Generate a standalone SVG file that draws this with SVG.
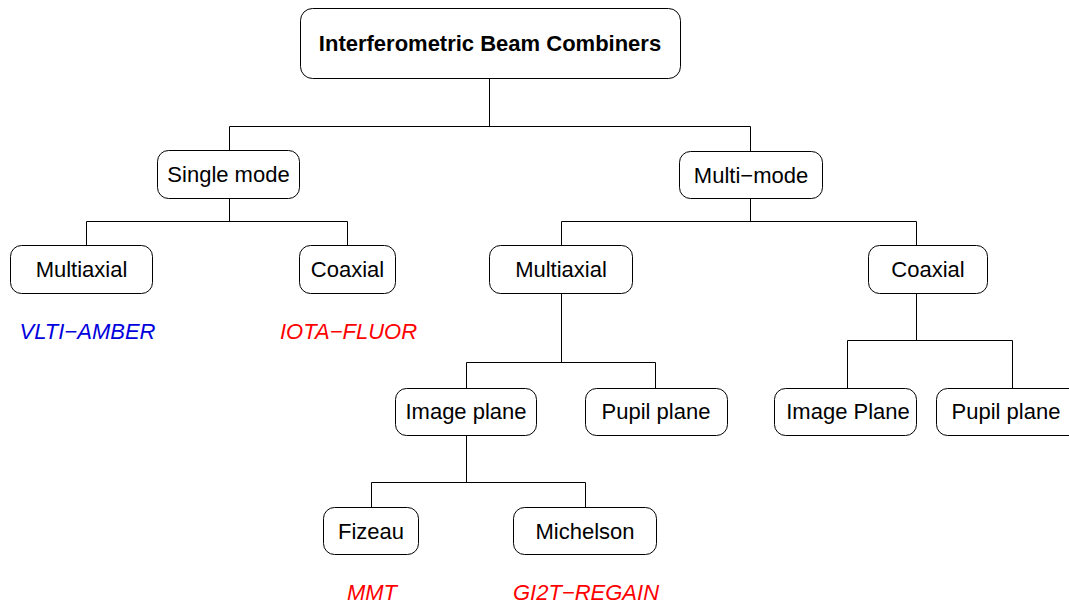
<svg xmlns="http://www.w3.org/2000/svg" width="1069" height="607" viewBox="0 0 1069 607">
<style>
.box{fill:#fff;stroke:#000;stroke-width:1}
.lbl{font-family:"Liberation Sans",Arial,sans-serif;font-size:22px;fill:#000;text-anchor:middle}
.root{font-weight:bold}
.ex{font-family:"Liberation Sans",Arial,sans-serif;font-size:22px;font-style:italic;text-anchor:middle}
.blue{fill:#0000dd}
.red{fill:#ff0000}
.conn{fill:none;stroke:#000;stroke-width:1}
</style>
<rect width="1069" height="607" fill="#fff"/>
<g id="connectors" class="conn">
<path d="M489.5 78V126.5M229.5 126.5H750.5M229.5 126.5V150M750.5 126.5V151"/>
<path d="M229.5 198V221.5M86.5 221.5H347.5M86.5 221.5V245M347.5 221.5V245"/>
<path d="M750.5 198V221.5M561.5 221.5H916.5M561.5 221.5V245M916.5 221.5V245"/>
<path d="M561.5 293V362.5M466.5 362.5H655.5M466.5 362.5V388M655.5 362.5V388"/>
<path d="M916.5 293V340.5M847.5 340.5H1012.5M847.5 340.5V388M1012.5 340.5V388"/>
<path d="M466.5 435V482.5M371.5 482.5H585.5M371.5 482.5V507M585.5 482.5V507"/>
</g>
<g id="root"><rect class="box" x="300.5" y="8.5" width="380" height="70" rx="12"/><text class="lbl root" x="490" y="51">Interferometric Beam Combiners</text></g>
<g id="single"><rect class="box" x="157.5" y="150.5" width="142" height="48" rx="11"/><text class="lbl" x="228.5" y="182">Single mode</text></g>
<g id="multi"><rect class="box" x="679.5" y="151.5" width="143" height="47" rx="11"/><text class="lbl" x="751" y="183">Multi−mode</text></g>
<g id="sm-multiaxial"><rect class="box" x="10.5" y="245.5" width="142" height="48" rx="11"/><text class="lbl" x="81.5" y="277">Multiaxial</text></g>
<g id="sm-coaxial"><rect class="box" x="299.5" y="245.5" width="96" height="48" rx="11"/><text class="lbl" x="347.5" y="277">Coaxial</text></g>
<g id="mm-multiaxial"><rect class="box" x="489.5" y="245.5" width="143" height="48" rx="11"/><text class="lbl" x="561" y="277">Multiaxial</text></g>
<g id="mm-coaxial"><rect class="box" x="868.5" y="245.5" width="119" height="48" rx="11"/><text class="lbl" x="928" y="277">Coaxial</text></g>
<g id="ex-amber"><text class="ex blue" x="87.5" y="339">VLTI−AMBER</text></g>
<g id="ex-fluor"><text class="ex red" x="348.5" y="339">IOTA−FLUOR</text></g>
<g id="ma-image"><rect class="box" x="395.5" y="388.5" width="141" height="47" rx="11"/><text class="lbl" x="466" y="419">Image plane</text></g>
<g id="ma-pupil"><rect class="box" x="585.5" y="388.5" width="142" height="47" rx="11"/><text class="lbl" x="656" y="419">Pupil plane</text></g>
<g id="co-image"><rect class="box" x="774.5" y="388.5" width="142" height="47" rx="11"/><text class="lbl" x="848" y="419">Image Plane</text></g>
<g id="co-pupil"><rect class="box" x="936.5" y="388.5" width="150" height="47" rx="11"/><text class="lbl" x="1006" y="419">Pupil plane</text></g>
<g id="fizeau"><rect class="box" x="323.5" y="507.5" width="95" height="47" rx="11"/><text class="lbl" x="371" y="539">Fizeau</text></g>
<g id="michelson"><rect class="box" x="513.5" y="507.5" width="143" height="47" rx="11"/><text class="lbl" x="585" y="539">Michelson</text></g>
<g id="ex-mmt"><text class="ex red" x="372" y="600">MMT</text></g>
<g id="ex-gi2t"><text class="ex red" x="586" y="600">GI2T−REGAIN</text></g>
</svg>
